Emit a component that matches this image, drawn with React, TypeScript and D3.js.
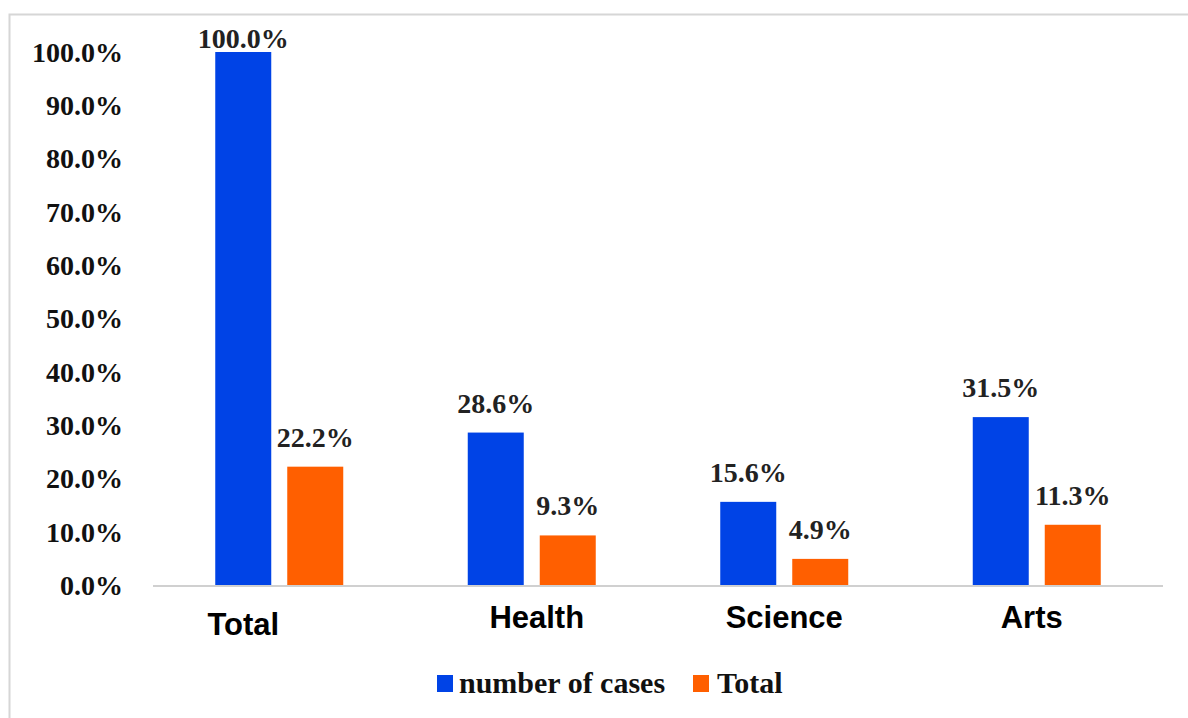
import React from "react";
import * as d3 from "d3";

const categories = ["Total", "Health", "Science", "Arts"];
const seriesNames = ["number of cases", "Total"];
const numberOfCases = [1.0, 0.286, 0.156, 0.315];
const totalShare = [0.222, 0.093, 0.049, 0.113];
const yTicks = [0, 0.1, 0.2, 0.3, 0.4, 0.5, 0.6, 0.7, 0.8, 0.9, 1.0];

// layout-only tweaks for category labels (as in the source image)
const labelDx = [-36, 5, 0, -5];
const labelDy = [7, 0, 0, 0];

const colors = ["#0043E6", "#FF5F00"];
const W = 1188;
const H = 718;
const serif = "'Liberation Serif', 'Times New Roman', serif";
const sans = "'Liberation Sans', Arial, sans-serif";

export default function App() {
  const x0 = d3.scaleBand<string>().domain(categories).range([153, 1163]).paddingInner(0).paddingOuter(0);
  const x1 = d3
    .scaleBand<string>()
    .domain(seriesNames)
    .range([-64, 64])
    .paddingInner(16 / 72)
    .paddingOuter(0);
  const y = d3.scaleLinear().domain([0, 1]).range([585, 52]);
  const fmt = d3.format(".1%");
  const seriesValues = [numberOfCases, totalShare];

  return (
    <svg
      width={W}
      height={H}
      style={{ position: "absolute", left: 0, top: 0, background: "#fff" }}
    >
      <rect x={0} y={0} width={W} height={H} fill="#ffffff" />
      <path d={`M9.5,${H} V14.5 H${W}`} fill="none" stroke="#d6d6d6" strokeWidth={2} />

      {yTicks.map((t) => (
        <text
          key={t}
          x={123}
          y={y(t)}
          dy="0.35em"
          textAnchor="end"
          fontFamily={serif}
          fontWeight="bold"
          fontSize={28}
          fill="#111"
        >
          {fmt(t)}
        </text>
      ))}

      {categories.map((c, ci) => {
        const cx = (x0(c) as number) + x0.bandwidth() / 2;
        return (
          <g key={c}>
            {seriesNames.map((s, si) => {
              const v = seriesValues[si][ci];
              const bx = cx + (x1(s) as number);
              const by = y(v);
              return (
                <g key={s}>
                  <rect
                    x={bx}
                    y={by}
                    width={x1.bandwidth()}
                    height={y(0) - by}
                    fill={colors[si]}
                  />
                  <text
                    x={bx + x1.bandwidth() / 2}
                    y={Math.max(by - 20, 48)}
                    textAnchor="middle"
                    fontFamily={serif}
                    fontWeight="bold"
                    fontSize={28}
                    fill="#222"
                  >
                    {fmt(v)}
                  </text>
                </g>
              );
            })}
            <text
              x={cx + labelDx[ci]}
              y={628 + labelDy[ci]}
              textAnchor="middle"
              fontFamily={sans}
              fontWeight="bold"
              fontSize={31}
              fill="#000"
            >
              {c}
            </text>
          </g>
        );
      })}

      <line x1={153} x2={1163} y1={586} y2={586} stroke="#d0d0d0" strokeWidth={2} />

      <g>
        <rect x={437} y={675} width={16} height={17} fill={colors[0]} />
        <text x={459} y={693} fontFamily={serif} fontWeight="bold" fontSize={30} fill="#111">
          {seriesNames[0]}
        </text>
        <rect x={693} y={675} width={16} height={17} fill={colors[1]} />
        <text x={717} y={693} fontFamily={serif} fontWeight="bold" fontSize={30} fill="#111">
          {seriesNames[1]}
        </text>
      </g>
    </svg>
  );
}
